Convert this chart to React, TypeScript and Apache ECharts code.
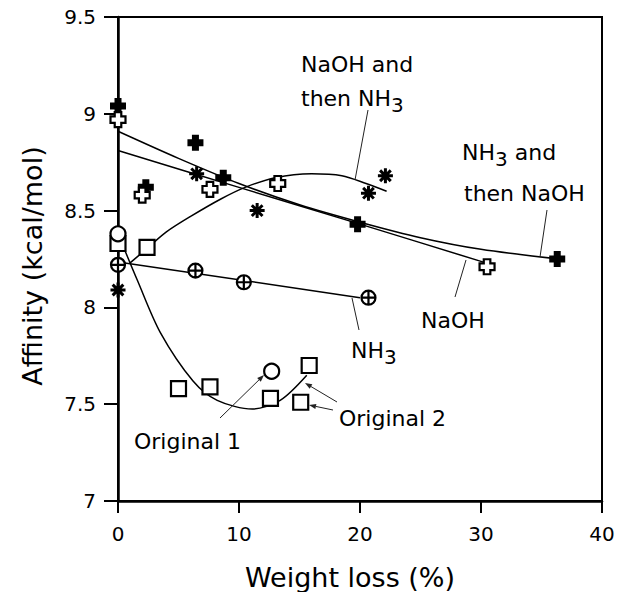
import React, { useEffect, useRef } from "react";
import * as echarts from "echarts";

// ---- axes ----
const xTicks = [0, 10, 20, 30, 40];
const yTickValues = [7, 7.5, 8, 8.5, 9, 9.5];
const yTickLabels = ["7", "7.5", "8", "8.5", "9", "9.5"];

// ---- measured points ----
// NH3 and then NaOH (filled cross)
const nh3NaohX = [0, 2.3, 6.4, 8.7, 19.8, 36.3];
const nh3NaohY = [9.04, 8.62, 8.85, 8.67, 8.43, 8.25];
// NaOH (open cross)
const naohX = [0, 2.0, 7.6, 13.2, 30.5];
const naohY = [8.97, 8.58, 8.61, 8.64, 8.21];
// NaOH and then NH3 (asterisk)
const naohNh3X = [0, 6.5, 11.5, 20.7, 22.1];
const naohNh3Y = [8.09, 8.69, 8.5, 8.59, 8.68];
// NH3 (circle with cross)
const nh3X = [0, 6.4, 10.4, 20.7];
const nh3Y = [8.22, 8.19, 8.13, 8.05];
// Original 1 (open circle)
const orig1X = [0, 12.7];
const orig1Y = [8.38, 7.67];
// Original 2 (open square)
const orig2X = [0, 2.4, 5.0, 7.6, 12.6, 15.1, 15.8];
const orig2Y = [8.33, 8.31, 7.58, 7.59, 7.53, 7.51, 7.7];

// ---- fitted curves ----
const fitNh3NaohX = [0, 5, 10, 15, 20, 25, 30, 36.4];
const fitNh3NaohY = [8.91, 8.77, 8.64, 8.53, 8.44, 8.36, 8.3, 8.25];
const fitNaohX = [0, 10, 20, 30.4];
const fitNaohY = [8.81, 8.62, 8.43, 8.23];
const fitNaohNh3X = [1.0, 2.5, 4, 6, 8.5, 10.5, 13, 16, 18.5, 20.5, 22.2];
const fitNaohNh3Y = [8.23, 8.31, 8.39, 8.47, 8.56, 8.62, 8.67, 8.69, 8.68, 8.64, 8.6];
const fitNh3X = [0, 20];
const fitNh3Y = [8.235, 8.05];
const fitOrigX = [0.4, 1.6, 3.5, 6.2, 8.2, 11.1, 13.4, 15.6];
const fitOrigY = [8.32, 8.14, 7.87, 7.62, 7.52, 7.475, 7.52, 7.65];

const FONT = '"DejaVu Sans", Verdana, sans-serif';

const PLUS =
  "path://M-3.5,-8 L3.5,-8 L3.5,-3.5 L8,-3.5 L8,3.5 L3.5,3.5 L3.5,8 L-3.5,8 L-3.5,3.5 L-8,3.5 L-8,-3.5 L-3.5,-3.5 Z";
const ASTER =
  "path://M0,-8 L0,8 M-8,0 L8,0 M-5.7,-5.7 L5.7,5.7 M-5.7,5.7 L5.7,-5.7";
const CPLUS =
  "path://M0,-8 A8,8 0 1,1 0,8 A8,8 0 1,1 0,-8 Z M-8,0 L8,0 M0,-8 L0,8";

function zip(xs: number[], ys: number[]) {
  return xs.map((x, i) => [x, ys[i]]);
}

function fitLine(xs: number[], ys: number[]) {
  return {
    type: "line",
    data: zip(xs, ys),
    smooth: 0.3,
    symbol: "none",
    silent: true,
    lineStyle: { color: "#000", width: 1.5 },
    z: 2,
  };
}

function scatter(xs: number[], ys: number[], symbol: string, size: number, itemStyle: any) {
  return {
    type: "scatter",
    data: zip(xs, ys),
    symbol,
    symbolSize: size,
    silent: true,
    itemStyle: { opacity: 1, ...itemStyle },
    z: 5,
  };
}

function label(text: string, x: number, y: number) {
  return {
    type: "text",
    x,
    y,
    z: 20,
    style: {
      text,
      fontSize: 22,
      fontFamily: FONT,
      fill: "#000",
      align: "left",
      verticalAlign: "middle",
    },
  };
}

function subLabel(main: string, sub: string, rest: string, x: number, y: number) {
  return {
    type: "text",
    x,
    y,
    z: 20,
    style: {
      text: `{b|${main}}{s|${sub}}` + (rest ? `{b|${rest}}` : ""),
      fontFamily: FONT,
      fill: "#000",
      align: "left",
      verticalAlign: "middle",
      rich: {
        b: { fontSize: 22, fontFamily: FONT, lineHeight: 34, verticalAlign: "middle" },
        s: { fontSize: 20, fontFamily: FONT, verticalAlign: "bottom" },
      },
    },
  };
}

function leader(x1: number, y1: number, x2: number, y2: number) {
  return {
    type: "line",
    z: 20,
    shape: { x1, y1, x2, y2 },
    style: { stroke: "#222", lineWidth: 1 },
  };
}

function arrow(x1: number, y1: number, x2: number, y2: number) {
  const a = Math.atan2(y2 - y1, x2 - x1);
  const len = 7;
  const w = 2.6;
  const bx = x2 - len * Math.cos(a);
  const by = y2 - len * Math.sin(a);
  const px = -Math.sin(a) * w;
  const py = Math.cos(a) * w;
  return {
    type: "group",
    children: [
      leader(x1, y1, bx, by),
      {
        type: "polygon",
        z: 20,
        shape: { points: [[x2, y2], [bx + px, by + py], [bx - px, by - py]] },
        style: { fill: "#222" },
      },
    ],
  };
}

export default function App() {
  const ref = useRef<HTMLDivElement>(null);

  useEffect(() => {
    if (!ref.current) return;
    const chart = echarts.init(ref.current, null, { renderer: "svg" });
    const option: any = {
      animation: false,
      backgroundColor: "#fff",
      grid: {
        left: 118,
        right: 16,
        top: 17,
        bottom: 91,
        show: true,
        borderColor: "#000",
        borderWidth: 2,
        backgroundColor: "transparent",
      },
      xAxis: {
        type: "value",
        min: xTicks[0],
        max: xTicks[xTicks.length - 1],
        interval: 10,
        axisLine: { show: true, onZero: false, lineStyle: { color: "#000", width: 2.5 } },
        axisTick: { show: true, inside: false, length: 12, lineStyle: { color: "#000", width: 2 } },
        splitLine: { show: false },
        axisLabel: {
          margin: 23,
          fontSize: 20,
          fontFamily: FONT,
          color: "#000",
        },
      },
      yAxis: {
        type: "value",
        min: yTickValues[0],
        max: yTickValues[yTickValues.length - 1],
        interval: 0.5,
        axisLine: { show: true, onZero: false, lineStyle: { color: "#000", width: 2.5 } },
        axisTick: { show: true, inside: false, length: 14, lineStyle: { color: "#000", width: 2 } },
        splitLine: { show: false },
        axisLabel: {
          margin: 22,
          fontSize: 20,
          fontFamily: FONT,
          color: "#000",
          formatter: (v: number) => {
            const i = yTickValues.findIndex((t) => Math.abs(t - v) < 1e-6);
            return i >= 0 ? yTickLabels[i] : "";
          },
        },
      },
      series: [
        fitLine(fitNh3NaohX, fitNh3NaohY),
        fitLine(fitNaohX, fitNaohY),
        fitLine(fitNaohNh3X, fitNaohNh3Y),
        fitLine(fitNh3X, fitNh3Y),
        fitLine(fitOrigX, fitOrigY),
        scatter(nh3NaohX, nh3NaohY, PLUS, 16, { color: "#000" }),
        scatter(naohX, naohY, PLUS, 15, { color: "#fff", borderColor: "#000", borderWidth: 2.2 }),
        scatter(naohNh3X, naohNh3Y, ASTER, 15, { color: "#000", borderColor: "#000", borderWidth: 3 }),
        scatter(nh3X, nh3Y, CPLUS, 14, { color: "#fff", borderColor: "#000", borderWidth: 2.2 }),
        scatter(orig2X, orig2Y, "rect", 15, { color: "#fff", borderColor: "#000", borderWidth: 2.2 }),
        scatter(orig1X, orig1Y, "circle", 15, { color: "#fff", borderColor: "#000", borderWidth: 2.2 }),
      ],
      graphic: [
        {
          type: "text",
          x: 350,
          y: 577,
          style: {
            text: "Weight loss (%)",
            fontSize: 27,
            fontFamily: FONT,
            fill: "#000",
            align: "center",
            verticalAlign: "middle",
          },
        },
        {
          type: "text",
          x: 32,
          y: 266,
          rotation: Math.PI / 2,
          style: {
            text: "Affinity (kcal/mol)",
            fontSize: 27,
            fontFamily: FONT,
            fill: "#000",
            align: "center",
            verticalAlign: "middle",
          },
        },
        label("NaOH and", 301, 64),
        subLabel("then NH", "3", "", 301, 98),
        leader(368, 110, 355, 180),
        subLabel("NH", "3", " and", 462, 152),
        label("then NaOH", 464, 193),
        leader(547, 210, 540, 257),
        label("NaOH", 421, 320),
        leader(455, 297, 466, 260),
        subLabel("NH", "3", "", 351, 350),
        leader(359, 330, 352, 298),
        label("Original 2", 339, 418),
        arrow(337, 402, 305, 383),
        arrow(333, 410, 309, 405),
        label("Original 1", 134, 441),
        arrow(220, 418, 264, 375),
      ],
    };
    chart.setOption(option);
    return () => chart.dispose();
  }, []);

  return (
    <div
      ref={ref}
      style={{ position: "fixed", left: 0, top: 0, width: 618, height: 592, background: "#fff" }}
    />
  );
}
